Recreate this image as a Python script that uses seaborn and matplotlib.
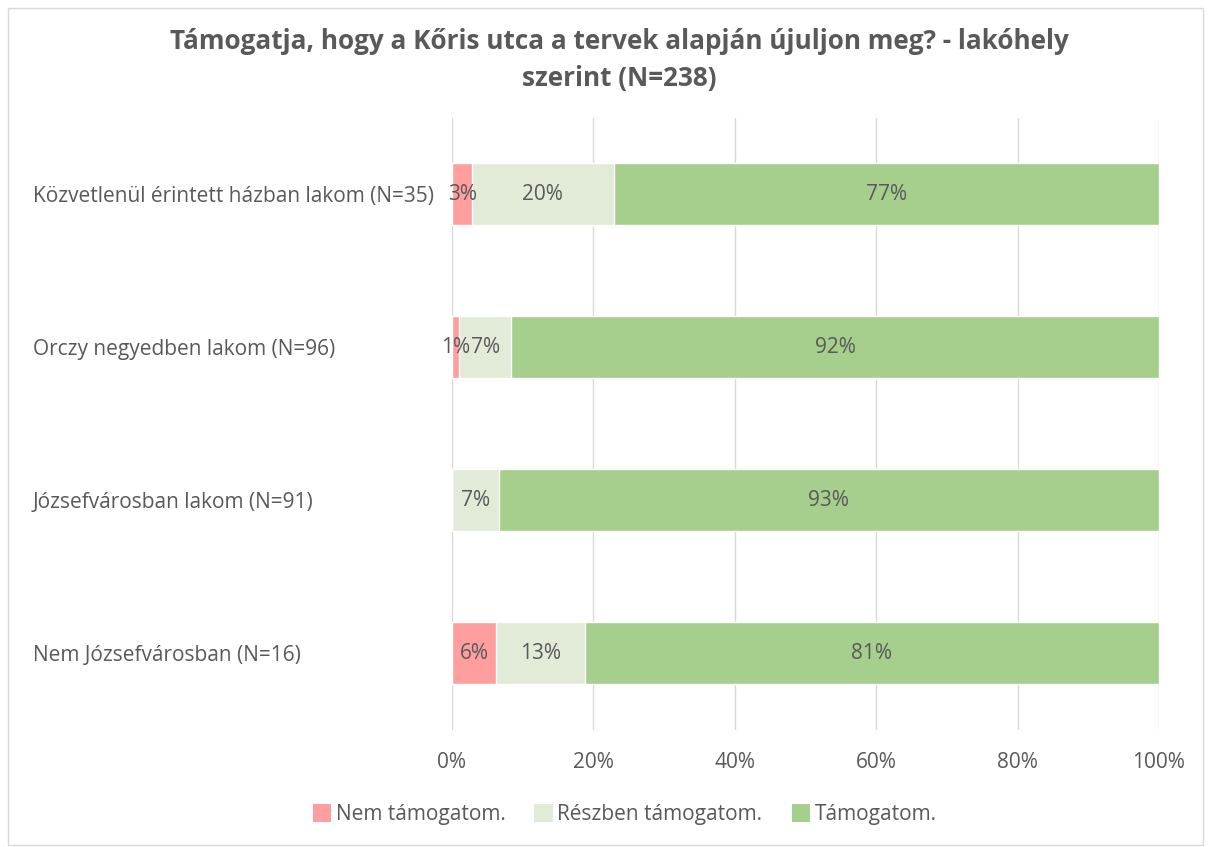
import numpy as np
import pandas as pd
import matplotlib.pyplot as plt
import seaborn as sns
from matplotlib.patches import Patch, Rectangle

# adatok
kategoriak = ["Közvetlenül érintett házban lakom (N=35)",
              "Orczy negyedben lakom (N=96)",
              "Józsefvárosban lakom (N=91)",
              "Nem Józsefvárosban (N=16)"]
nem_tamogatom = [2.86, 1.04, 0.0, 6.25]
reszben = [20.0, 7.29, 6.59, 12.5]
tamogatom = [77.14, 91.67, 93.41, 81.25]
sorozatok = ["Nem támogatom.", "Részben támogatom.", "Támogatom."]
szinek = ["#FF9E9E", "#E2EBD8", "#A6CE8C"]

df = pd.DataFrame({"kat": kategoriak, "nem": nem_tamogatom,
                   "resz": reszben, "tam": tamogatom})
df["c1"] = df["nem"]
df["c2"] = df["nem"] + df["resz"]
df["c3"] = df["c2"] + df["tam"]

sns.set_style("white")
plt.rcParams["font.family"] = ["Open Sans", "DejaVu Sans"]
szoveg = "#595959"
betu = 15

fig = plt.figure(figsize=(12.08, 8.47), dpi=100)
ax = fig.add_axes([452 / 1208, 1 - 729.5 / 847, 707 / 1208, 612 / 847])

# halmozott sávok: legnagyobbtól a legkisebbig
for col, szin in zip(["c3", "c2", "c1"], szinek[::-1]):
    sns.barplot(data=df, x=col, y="kat", color=szin, width=0.4,
                orient="h", ax=ax, saturation=1, zorder=3)

# címkék a szegmensek közepén (kerekítés felfelé .5-nél)
for i in range(len(df)):
    bal = 0
    for col in ["nem", "resz", "tam"]:
        v = df.loc[i, col]
        if v > 0:
            ax.text(bal + v / 2, i, f"{int(np.floor(v + 0.5))}%", ha="center",
                    va="center", fontsize=betu, color=szoveg, zorder=5)
        bal += v

ax.set_xlim(0, 100)
ax.set_ylim(3.5, -0.5)
ax.set_xticks(np.arange(0, 101, 20))
ax.set_xticklabels([f"{t}%" for t in range(0, 101, 20)])
ax.xaxis.grid(True, color="#D9D9D9", lw=1, zorder=0)
ax.set_xlabel("")
ax.set_ylabel("")
for s in ax.spines.values():
    s.set_visible(False)
ax.tick_params(axis="both", length=0, labelsize=betu, labelcolor=szoveg)
ax.tick_params(axis="x", pad=16)
# bal oldalra igazított kategóriacímkék
for lbl in ax.get_yticklabels():
    lbl.set_ha("left")
ax.tick_params(axis="y", pad=(452 - 33) * 0.72)

fig.text(0.513, 0.967, "Támogatja, hogy a Kőris utca a tervek alapján újuljon meg? - lakóhely\nszerint (N=238)",
         ha="center", va="top", fontsize=18.8, fontweight="bold", color=szoveg,
         linespacing=1.5)

kezek = [Patch(facecolor=c, edgecolor="none") for c in szinek]
fig.legend(kezek, sorozatok, loc="center", bbox_to_anchor=(0.517, 0.038),
           ncol=3, frameon=False, fontsize=betu, labelcolor=szoveg,
           handlelength=0.9, handleheight=0.9, handletextpad=0.2,
           columnspacing=1.4)

fig.patches.append(Rectangle((8 / 1208, 0.002), 1195 / 1208, 0.988,
                             transform=fig.transFigure, fill=False,
                             edgecolor="#D9D9D9", lw=1))

fig.savefig("out.png", dpi=100)
